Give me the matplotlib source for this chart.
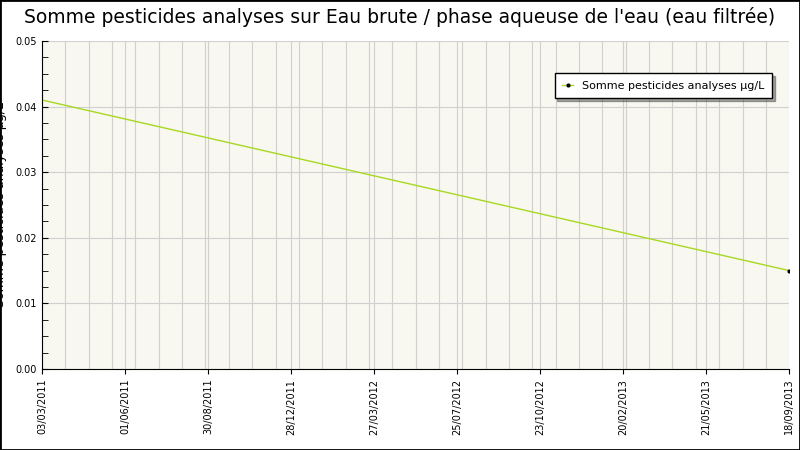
import matplotlib
matplotlib.use('Agg')
import matplotlib.pyplot as plt
import numpy as np

tick_labels = ['03/03/2011', '01/06/2011', '30/08/2011', '28/12/2011', '27/03/2012',
               '25/07/2012', '23/10/2012', '20/02/2013', '21/05/2013', '18/09/2013']
x_pos = [0, 9]
values = [0.041, 0.015]
label = 'Somme pesticides analyses µg/L'

fig = plt.figure(figsize=(8, 4.5), dpi=100)
fig.patches.append(plt.Rectangle((0, 0), 1, 1, transform=fig.transFigure,
                                 fill=False, edgecolor='black', linewidth=2))
ax = fig.add_axes([0.0525, 0.18, 0.934, 0.729])
ax.set_facecolor('#f8f8f0')
ax.plot(x_pos, values, color='#a8d820', linewidth=1, marker='o', markersize=2,
        markerfacecolor='black', markeredgecolor='black', markevery=[1], label=label)
ax.set_xlim(0, 9)
ax.set_ylim(0, 0.05)
ax.set_xticks(range(len(tick_labels)))
ax.set_xticklabels(tick_labels, rotation=90, fontsize=7)
ax.set_xticks(np.linspace(0, 9, 33), minor=True)
ax.set_yticks(np.arange(0, 0.051, 0.01))
ax.set_yticklabels(['%.2f' % v for v in np.arange(0, 0.051, 0.01)], fontsize=7)
ax.set_yticks(np.arange(0, 0.0501, 0.0025), minor=True)
ax.grid(True, axis='x', which='both', color='#d0d0d0', linewidth=0.8)
ax.grid(True, axis='y', which='major', color='#d0d0d0', linewidth=0.8)
ax.tick_params(axis='y', which='both', direction='in', length=4)
ax.tick_params(axis='x', which='minor', length=0)
for s in ['top', 'right']:
    ax.spines[s].set_visible(False)
ax.set_ylabel('Somme pesticides analyses µg/L', fontsize=9, labelpad=6)
fig.suptitle("Somme pesticides analyses sur Eau brute / phase aqueuse de l'eau (eau filtrée)",
             fontsize=13.5, y=0.985)
leg = ax.legend(loc='upper right', bbox_to_anchor=(0.985, 0.92), fontsize=8,
                fancybox=False, shadow=True, framealpha=1, handlelength=1,
                borderpad=0.7)
leg.get_frame().set_edgecolor('black')
fig.savefig('out.png')
